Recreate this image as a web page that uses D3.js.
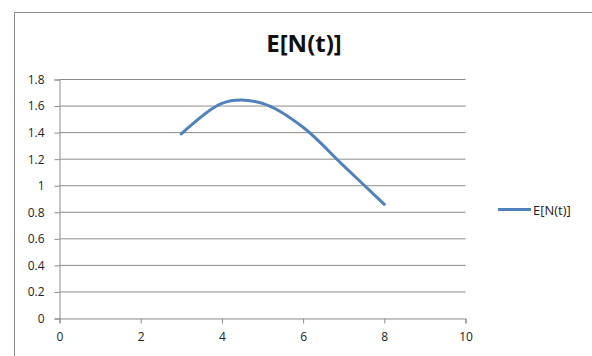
<!DOCTYPE html>
<html>
<head>
  <meta charset="utf-8">
  <title>E[N(t)]</title>
  <script src="https://cdn.jsdelivr.net/npm/d3@7/dist/d3.min.js"></script>
  <style>
    body { margin: 0; background: #fff; }
    text { font-family: "Open Sans", "Liberation Sans", sans-serif; }
  </style>
</head>
<body>
<svg id="chart"></svg>
<script>
  // chart data
  var seriesName = "E[N(t)]";
  var xs = [3, 4, 5, 6, 7, 8];
  var ys = [1.39, 1.62, 1.62, 1.44, 1.15, 0.86];
  var xTicks = [0, 2, 4, 6, 8, 10];
  var yTicks = [0, 0.2, 0.4, 0.6, 0.8, 1, 1.2, 1.4, 1.6, 1.8];

  var width = 592, height = 356;
  var svg = d3.select("#chart").attr("width", width).attr("height", height);

  // outer chart frame (cut off at right/bottom)
  svg.append("path")
     .attr("d", "M14.5,400 V12.5 H700")
     .attr("fill", "none")
     .attr("stroke", "#8c8c8c")
     .attr("stroke-width", 1);

  var x = d3.scaleLinear().domain([0, 10]).range([59.5, 465.5]);
  var y = d3.scaleLinear().domain([0, 1.8]).range([318.5, 79.5]);

  // gridlines
  svg.append("g")
     .selectAll("line")
     .data(yTicks.slice(1))
     .join("line")
     .attr("x1", x(0)).attr("x2", x(10))
     .attr("y1", d => y(d)).attr("y2", d => y(d))
     .attr("stroke", "#8c8c8c");

  // y axis
  var yAxis = svg.append("g")
     .attr("transform", "translate(" + x(0) + ",0)")
     .call(d3.axisLeft(y).tickValues(yTicks).tickSize(5).tickPadding(10)
            .tickFormat(d3.format("~g")));
  // x axis
  var xAxis = svg.append("g")
     .attr("transform", "translate(0," + y(0) + ")")
     .call(d3.axisBottom(x).tickValues(xTicks).tickSize(5).tickPadding(9));

  [yAxis, xAxis].forEach(function(a) {
    a.select(".domain").attr("stroke", "#8c8c8c");
    a.selectAll(".tick line").attr("stroke", "#8c8c8c");
    a.selectAll("text").attr("fill", "#222").style("font-size", "12px")
      .style("font-family", "'Open Sans', sans-serif");
  });

  // series
  var pts = xs.map((d, i) => [d, ys[i]]);
  svg.append("path")
     .datum(pts)
     .attr("fill", "none")
     .attr("stroke", "#4f81bd")
     .attr("stroke-width", 3)
     .attr("stroke-linecap", "round")
     .attr("d", d3.line().x(d => x(d[0])).y(d => y(d[1])).curve(d3.curveCardinal.tension(0)));

  // title
  svg.append("text")
     .attr("x", 304).attr("y", 52)
     .attr("text-anchor", "middle")
     .style("font-size", "24px")
     .style("font-weight", "bold")
     .attr("fill", "#111")
     .text(seriesName);

  // legend
  svg.append("line")
     .attr("x1", 498).attr("x2", 531)
     .attr("y1", 209.5).attr("y2", 209.5)
     .attr("stroke", "#4f81bd").attr("stroke-width", 3);
  svg.append("text")
     .attr("x", 533).attr("y", 214.5)
     .style("font-size", "13px")
     .attr("fill", "#222")
     .text(seriesName);
</script>
</body>
</html>
